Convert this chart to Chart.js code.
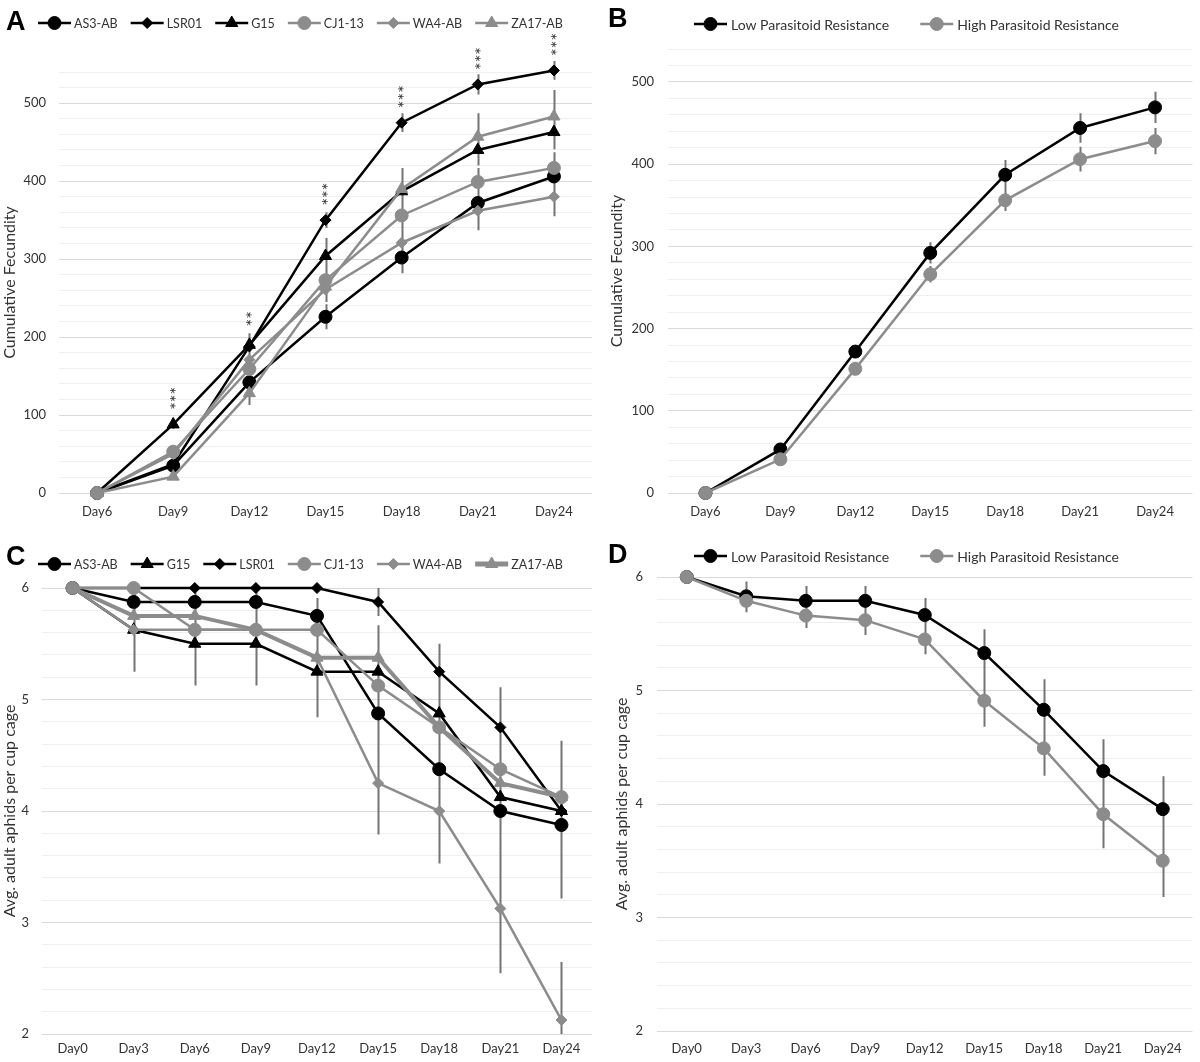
<!DOCTYPE html>
<html><head><meta charset="utf-8">
<script src="https://cdn.jsdelivr.net/npm/chart.js@4.4.1/dist/chart.umd.min.js"></script>
<style>
html,body{margin:0;padding:0;background:#fff;}
#wrap{position:relative;width:1200px;height:1062px;overflow:hidden;}
canvas{position:absolute;display:block;}
</style></head><body>
<div id="wrap">
<canvas id="cA" width="600" height="520" style="left:0;top:0"></canvas>
<canvas id="cB" width="600" height="520" style="left:600px;top:0"></canvas>
<canvas id="cC" width="600" height="542" style="left:0;top:520px"></canvas>
<canvas id="cD" width="600" height="542" style="left:600px;top:520px"></canvas>
</div>
<script>
// ---------- DATA ----------
const daysAB = ['Day6','Day9','Day12','Day15','Day18','Day21','Day24'];
const daysCD = ['Day0','Day3','Day6','Day9','Day12','Day15','Day18','Day21','Day24'];

// Panel A: cumulative fecundity by line
const aAS3   = [0, 35, 142, 226, 302, 372, 406];
const aLSR01 = [0, 37, 188, 350, 475, 524, 542];
const aG15   = [0, 88, 190, 304, 387, 440, 463];
const aCJ1   = [0, 53, 159, 273, 356, 399, 417];
const aWA4   = [0, 50, 171, 261, 321, 362, 380];
const aZA17  = [0, 21, 128, 265, 390, 457, 483];
const aAS3Err   = [0, 4, 10, 16, 20, 15, 18];
const aLSR01Err = [0, 5, 15, 10, 12, 13, 12];
const aG15Err   = [0, 6, 15, 23, 20, 20, 22];
const aCJ1Err   = [0, 5, 10, 15, 20, 18, 20];
const aWA4Err   = [0, 4, 10, 15, 18, 25, 25];
const aZA17Err  = [0, 4, 15, 20, 27, 30, 34];
const aSig = ['', '***', '**', '***', '***', '***', '***'];

// Panel B: cumulative fecundity by resistance group
const bLow      = [0, 53, 172, 292, 387, 444, 469];
const bLowErr   = [0, 3, 5, 13, 18, 18, 19];
const bHigh     = [0, 41, 151, 266, 356, 406, 428];
const bHighErr  = [0, 3, 6, 10, 13, 15, 16];

// Panel C: adult aphids per cup cage by line
const cAS3   = [6, 5.875, 5.875, 5.875, 5.75, 4.875, 4.375, 4.0, 3.875];
const cG15   = [6, 5.625, 5.5, 5.5, 5.25, 5.25, 4.875, 4.125, 4.0];
const cLSR01 = [6, 6, 6, 6, 6, 5.875, 5.25, 4.75, 4.0];
const cCJ1   = [6, 6, 5.625, 5.625, 5.625, 5.125, 4.75, 4.375, 4.125];
const cWA4   = [6, 5.625, 5.625, 5.625, 5.375, 4.25, 4.0, 3.125, 2.125];
const cZA17  = [6, 5.75, 5.75, 5.625, 5.375, 5.375, 4.75, 4.25, 4.125];
const cAS3Err   = [0, 0.13, 0.13, 0.13, 0.16, 0.79, 0.4, 0.5, 0.66];
const cG15Err   = [0, 0.375, 0.375, 0.375, 0.41, 0.25, 0.3, 0.3, 0.3];
const cLSR01Err = [0, 0, 0, 0, 0, 0.125, 0.25, 0.36, 0.63];
const cCJ1Err   = [0, 0, 0.18, 0.18, 0.18, 0.3, 0.3, 0.3, 0.3];
const cWA4Err   = [0, 0.18, 0.18, 0.18, 0.18, 0.46, 0.47, 0.58, 0.52];
const cZA17Err  = [0, 0.16, 0.16, 0.18, 0.18, 0.18, 0.3, 0.3, 0.3];

// Panel D: adult aphids per cup cage by resistance group
const dLow     = [6, 5.83, 5.79, 5.79, 5.665, 5.33, 4.83, 4.29, 3.955];
const dLowErr  = [0, 0.13, 0.13, 0.13, 0.15, 0.21, 0.27, 0.28, 0.29];
const dHigh    = [6, 5.79, 5.66, 5.62, 5.45, 4.91, 4.49, 3.91, 3.5];
const dHighErr = [0, 0.10, 0.11, 0.13, 0.13, 0.23, 0.24, 0.30, 0.32];

// ---------- STYLE ----------
const BLACK = '#000000', GRAY = '#8c8c8c', ERRC = '#747474', TXT = '#333333';
const FONT = 'Lato, "Open Sans", sans-serif';

function isMajor(v, major){ const r = v / major; return Math.abs(r - Math.round(r)) < 1e-6; }

function drawMarker(ctx, style, r, x, y){
  ctx.beginPath();
  if (style === 'circle') { ctx.arc(x, y, r, 0, Math.PI*2); }
  else if (style === 'rectRot') { ctx.moveTo(x-r,y); ctx.lineTo(x,y-r); ctx.lineTo(x+r,y); ctx.lineTo(x,y+r); ctx.closePath(); }
  else if (style === 'triangle') {
    for (let k=0;k<3;k++){ const a = k*2*Math.PI/3; const px = x+Math.sin(a)*r, py = y-Math.cos(a)*r; k?ctx.lineTo(px,py):ctx.moveTo(px,py); }
    ctx.closePath();
  }
  ctx.fill(); ctx.stroke();
}

const errorBarPlugin = {
  id: 'errorBars',
  beforeDatasetsDraw(chart){
    const {ctx, chartArea: a, scales: {x, y}} = chart;
    ctx.save();
    ctx.beginPath(); ctx.rect(a.left, a.top - 30, a.right - a.left, a.bottom - a.top + 30); ctx.clip();
    ctx.strokeStyle = ERRC; ctx.lineWidth = chart.options.plugins.errorBars.width || 2;
    ctx.beginPath();
    chart.data.datasets.forEach(ds => {
      if (!ds.errors) return;
      ds.data.forEach((v, i) => {
        const e = ds.errors[i]; if (!e) return;
        const px = Math.round(x.getPixelForValue(i)) + 0.5;
        ctx.moveTo(px, y.getPixelForValue(v + e));
        ctx.lineTo(px, y.getPixelForValue(v - e));
      });
    });
    ctx.stroke();
    ctx.restore();
  }
};

const legendPlugin = {
  id: 'panelLegend',
  afterDraw(chart){
    const o = chart.options.plugins.panelLegend;
    const ctx = chart.ctx;
    ctx.save();
    ctx.font = 'bold 27px "Liberation Sans", Arial, sans-serif';
    ctx.fillStyle = '#000'; ctx.textBaseline = 'alphabetic'; ctx.textAlign = 'left';
    ctx.fillText(o.letter, o.letterX, o.letterY);
    ctx.font = o.fontSize + 'px ' + FONT;
    ctx.textBaseline = 'middle';
    let x = o.x;
    chart.data.datasets.forEach(ds => {
      ctx.strokeStyle = ds.borderColor; ctx.lineWidth = ds.legendLineWidth || ds.borderWidth;
      ctx.beginPath(); ctx.moveTo(x, o.y); ctx.lineTo(x + o.lineLen, o.y); ctx.stroke();
      ctx.fillStyle = ds.pointBackgroundColor; ctx.strokeStyle = ds.pointBorderColor; ctx.lineWidth = 1;
      drawMarker(ctx, ds.pointStyle, ds.pointRadius, x + o.lineLen/2, o.y);
      ctx.fillStyle = TXT;
      ctx.fillText(ds.label, x + o.lineLen + o.textGap, o.y + 1);
      x += o.lineLen + o.textGap + ctx.measureText(ds.label).width + o.itemGap;
    });
    ctx.restore();
  }
};

const sigPlugin = {
  id: 'sig',
  afterDatasetsDraw(chart){
    const o = chart.options.plugins.sig;
    if (!o || !o.labels) return;
    const ctx = chart.ctx;
    o.labels.forEach((lab, i) => {
      if (!lab) return;
      let top = Infinity;
      chart.data.datasets.forEach((ds, di) => { const el = chart.getDatasetMeta(di).data[i]; if (el) top = Math.min(top, el.y); });
      const px = chart.scales.x.getPixelForValue(i);
      ctx.save();
      ctx.translate(px, top - 26);
      ctx.rotate(-Math.PI/2);
      ctx.font = '18px ' + FONT; ctx.textAlign = 'center'; ctx.textBaseline = 'middle'; ctx.fillStyle = TXT;
      ctx.fillText(lab, 0, 4);
      ctx.restore();
    });
  }
};

function series(label, data, errors, color, style, radius, width, idx){
  return {label, data, errors, borderColor: color, backgroundColor: color,
    pointBackgroundColor: color, pointBorderColor: color, pointStyle: style,
    pointRadius: radius, pointHoverRadius: radius, pointBorderWidth: 1,
    borderWidth: width, tension: 0, fill: false, clip: false, order: -idx};
}

function yScale(min, max, step, major, width, tickPad, title, titlePad){
  return {
    type: 'linear', min, max,
    afterFit(s){ s.width = width; },
    afterBuildTicks(s){
      const t = []; const n = Math.round((max - min) / step);
      for (let i = 0; i <= n; i++) t.push({value: +(min + i * step).toFixed(6)});
      s.ticks = t;
    },
    ticks: {autoSkip: false, padding: tickPad, color: TXT, font: {family: FONT, size: 13},
      callback: v => isMajor(v, major) ? String(Math.round(v)) : ''},
    grid: {color: c => (c.tick && isMajor(c.tick.value, major)) ? '#d9d9d9' : '#efefef', lineWidth: 1, drawTicks: false},
    border: {display: false},
    title: {display: true, text: title, color: TXT, font: {family: FONT, size: 16}, padding: {top: titlePad, bottom: 0}}
  };
}
function xScale(height, pad){
  return {type: 'category', offset: true,
    afterFit(s){ s.height = height; },
    grid: {display: false, drawTicks: false}, border: {display: false},
    ticks: {padding: pad, color: TXT, font: {family: FONT, size: 13}, maxRotation: 0, autoSkip: false}};
}

function make(id, labels, datasets, y, x, padding, legend, extra){
  return new Chart(document.getElementById(id), {
    type: 'line',
    data: {labels, datasets},
    options: {
      responsive: false, animation: false, devicePixelRatio: 1,
      layout: {padding},
      scales: {x, y},
      plugins: Object.assign({legend: {display: false}, tooltip: {enabled: false},
        panelLegend: legend, errorBars: {width: 2}}, extra || {})
    },
    plugins: [errorBarPlugin, sigPlugin, legendPlugin]
  });
}

// Panel A
make('cA', daysAB, [
  series('AS3-AB', aAS3, aAS3Err, BLACK, 'circle', 6.5, 2.5, 0),
  series('LSR01', aLSR01, aLSR01Err, BLACK, 'rectRot', 5.5, 2.5, 1),
  series('G15', aG15, aG15Err, BLACK, 'triangle', 7, 2.5, 2),
  series('CJ1-13', aCJ1, aCJ1Err, GRAY, 'circle', 6.5, 2.5, 3),
  series('WA4-AB', aWA4, aWA4Err, GRAY, 'rectRot', 5.5, 2.5, 4),
  series('ZA17-AB', aZA17, aZA17Err, GRAY, 'triangle', 7, 2.5, 5)
], yScale(0, 540, 20, 100, 59, 13, 'Cumulative Fecundity', 0.5), xScale(27, 11),
  {top: 72, right: 6, left: 0, bottom: 0},
  {letter: 'A', letterX: 6, letterY: 30, x: 38, y: 23, lineLen: 33, textGap: 3, itemGap: 13, fontSize: 12.5},
  {sig: {labels: aSig}});

// Panel B
make('cB', daysAB, [
  series('Low Parasitoid Resistance', bLow, bLowErr, BLACK, 'circle', 6.5, 2.5, 0),
  series('High Parasitoid Resistance', bHigh, bHighErr, GRAY, 'circle', 6.5, 2.5, 1)
], yScale(0, 540, 20, 100, 68, 14, 'Cumulative Fecundity', 7.5), xScale(27, 11),
  {top: 49, right: 0, left: 0, bottom: 0},
  {letter: 'B', letterX: 8, letterY: 27, x: 94, y: 24, lineLen: 33, textGap: 4, itemGap: 31, fontSize: 14});

// Panel C
const zaC = series('ZA17-AB', cZA17, cZA17Err, GRAY, 'triangle', 7, 4, 5);
zaC.legendLineWidth = 5;
make('cC', daysCD, [
  series('AS3-AB', cAS3, cAS3Err, BLACK, 'circle', 6.5, 2.5, 0),
  series('G15', cG15, cG15Err, BLACK, 'triangle', 7, 2.5, 1),
  series('LSR01', cLSR01, cLSR01Err, BLACK, 'rectRot', 5.5, 2.5, 2),
  series('CJ1-13', cCJ1, cCJ1Err, GRAY, 'circle', 6.5, 2.5, 3),
  series('WA4-AB', cWA4, cWA4Err, GRAY, 'rectRot', 5.5, 2.5, 4),
  zaC
], yScale(2, 6, 0.2, 1, 42, 13, 'Avg. adult aphids per cup cage', 0.5), xScale(28, 7),
  {top: 68, right: 8, left: 0, bottom: 0},
  {letter: 'C', letterX: 6, letterY: 45, x: 38, y: 44, lineLen: 33, textGap: 3, itemGap: 13, fontSize: 12.5});

// Panel D
make('cD', daysCD, [
  series('Low Parasitoid Resistance', dLow, dLowErr, BLACK, 'circle', 6.5, 2.5, 0),
  series('High Parasitoid Resistance', dHigh, dHighErr, GRAY, 'circle', 6.5, 2.5, 1)
], yScale(2, 6, 0.2, 1, 57, 14, 'Avg. adult aphids per cup cage', 12.5), xScale(31, 10),
  {top: 57, right: 3, left: 0, bottom: 0},
  {letter: 'D', letterX: 8, letterY: 43, x: 94, y: 36, lineLen: 33, textGap: 4, itemGap: 31, fontSize: 14});
</script>
</body></html>
